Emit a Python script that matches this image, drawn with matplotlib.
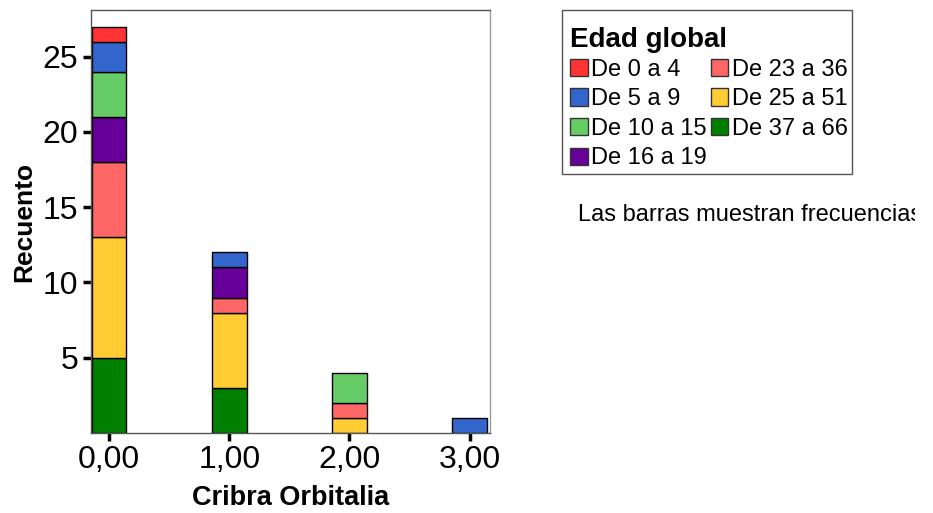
import matplotlib
matplotlib.use("Agg")
from matplotlib import pyplot as plt
from matplotlib.patches import Patch, Rectangle
from matplotlib.transforms import Bbox, TransformedBbox
import numpy as np

plt.rcParams['font.family'] = ['Liberation Sans', 'DejaVu Sans']

x = np.array([0, 1, 2, 3])
x_labels = ['0,00', '1,00', '2,00', '3,00']

# age groups (legend order) and their counts per Cribra Orbitalia value
groups = ['De 0 a 4', 'De 5 a 9', 'De 10 a 15', 'De 16 a 19',
          'De 23 a 36', 'De 25 a 51', 'De 37 a 66']
colors = ['#FF3333', '#3366CC', '#66CC66', '#660099',
          '#FF6666', '#FFCC33', '#007F00']
de_0_4 = [1, 0, 0, 0]
de_5_9 = [2, 1, 0, 1]
de_10_15 = [3, 0, 2, 0]
de_16_19 = [3, 2, 0, 0]
de_23_36 = [5, 1, 1, 0]
de_25_51 = [8, 5, 1, 0]
de_37_66 = [5, 3, 0, 0]
counts = [de_0_4, de_5_9, de_10_15, de_16_19, de_23_36, de_25_51, de_37_66]

fig = plt.figure(figsize=(9.33, 5.13), dpi=100)
ax = fig.add_axes([91/933, 80/513, 399/933, 423/513])

# stack from the oldest group at the bottom
bottom = np.zeros(len(x))
for vals, col in zip(counts[::-1], colors[::-1]):
    vals = np.array(vals)
    mask = vals > 0
    ax.bar(x[mask], vals[mask], width=0.29, bottom=bottom[mask],
           color=col, edgecolor='black', linewidth=1)
    bottom += vals

ax.set_xlim(-0.15, 3.17)
ax.set_ylim(0, 28.1)
ax.set_xticks(x)
ax.set_xticklabels(x_labels)
ax.set_yticks([5, 10, 15, 20, 25])
ax.tick_params(axis='both', labelsize=23, width=2.5, length=6, color='black', pad=3)
for s in ax.spines.values():
    s.set_color('#555555')
    s.set_linewidth(1)
ax.spines['right'].set_color('#999999')

ax.set_xlabel('Cribra Orbitalia', fontsize=19.5, fontweight='bold', labelpad=7)
ax.set_ylabel('Recuento', fontsize=19, fontweight='bold', labelpad=5)

# legend frame drawn separately so the padding can match
fig.patches.append(Rectangle((562/933, 1 - 174/513), 290/933, 164/513,
                             transform=fig.transFigure, facecolor='white',
                             edgecolor='#555555', linewidth=1, zorder=0))

handles = [Patch(facecolor=c, edgecolor='#333333', linewidth=1) for c in colors]
leg = fig.legend(handles, groups, ncol=2, loc='upper left',
                 bbox_to_anchor=(556/933, 1 - 13/513), borderaxespad=0,
                 title='Edad global', alignment='left',
                 title_fontproperties={'weight': 'bold', 'size': 20},
                 fontsize=17, handlelength=0.75, handleheight=0.75,
                 handletextpad=0.15, columnspacing=0.15, labelspacing=0.32,
                 borderpad=0.6, frameon=False)
leg._legend_box.sep = 4

t = fig.text(578/933, 1 - 215/513, 'Las barras muestran frecuencias',
             fontsize=17, va='center', ha='left')
t.set_clip_box(TransformedBbox(Bbox([[0, 0], [915/933, 1]]), fig.transFigure))
t.set_clip_on(True)

fig.savefig('out.png', dpi=100)
